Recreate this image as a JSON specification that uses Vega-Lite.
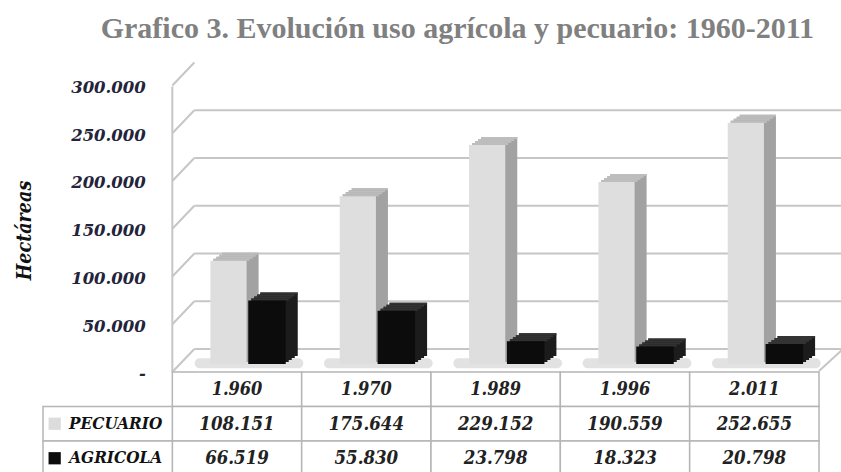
{
  "$schema": "https://vega.github.io/schema/vega-lite/v6.json",
  "background": "white",
  "padding": {"left": 14, "top": 14, "right": 0, "bottom": 0},
  "config": {
    "view": {"stroke": null},
    "locale": {"number": {"decimal": ",", "thousands": ".", "grouping": [3], "currency": ["", ""]}}
  },
  "title": {
    "text": "Grafico 3. Evolución uso agrícola y  pecuario: 1960-2011",
    "font": "Liberation Serif",
    "fontSize": 30,
    "fontWeight": "bold",
    "color": "#808080",
    "anchor": "middle",
    "dx": 28,
    "offset": 17
  },
  "datasets": {
    "d": [
      {"year": "1.960", "series": "PECUARIO", "value": 108151},
      {"year": "1.970", "series": "PECUARIO", "value": 175644},
      {"year": "1.989", "series": "PECUARIO", "value": 229152},
      {"year": "1.996", "series": "PECUARIO", "value": 190559},
      {"year": "2.011", "series": "PECUARIO", "value": 252655},
      {"year": "1.960", "series": "AGRICOLA", "value": 66519},
      {"year": "1.970", "series": "AGRICOLA", "value": 55830},
      {"year": "1.989", "series": "AGRICOLA", "value": 23798},
      {"year": "1.996", "series": "AGRICOLA", "value": 18323},
      {"year": "2.011", "series": "AGRICOLA", "value": 20798}
    ],
    "ticks": [
      {"v": 0}, {"v": 50000}, {"v": 100000}, {"v": 150000}, {"v": 200000}, {"v": 250000}, {"v": 300000}
    ]
  },
  "spacing": 0,
  "bounds": "flush",
  "resolve": {"scale": {"x": "independent", "y": "independent", "color": "independent"}},
  "vconcat": [
    {
      "width": 776,
      "height": 306,
      "layer": [
        {
          "data": {"name": "ticks"},
          "transform": [{"filter": "datum.v <= 250000"}],
          "mark": {"type": "rule", "color": "#c6c6c6", "strokeWidth": 2, "xOffset": 22, "x2Offset": 24, "yOffset": -15},
          "encoding": {
            "x": {"datum": "1.960", "bandPosition": 0, "type": "nominal", "axis": null,
                  "scale": {"domain": ["", "1.960", "1.970", "1.989", "1.996", "2.011"], "paddingInner": 0, "paddingOuter": 0}},
            "x2": {"datum": "2.011", "bandPosition": 1},
            "y": {"field": "v", "type": "quantitative", "title": "Hectáreas",
                  "scale": {"domain": [-8400, 312000], "nice": false, "zero": false},
                  "axis": {
                    "values": [0, 50000, 100000, 150000, 200000, 250000, 300000],
                    "labelExpr": "datum.value == 0 ? '-' : format(datum.value, ',d')",
                    "offset": -129.3,
                    "domain": false, "ticks": false, "grid": false,
                    "labelFont": "DejaVu Serif", "labelFontStyle": "italic", "labelFontWeight": "bold",
                    "labelFontSize": 16.5, "labelColor": "#23233a", "labelPadding": 27, "labelOffset": 10,
                    "titleFont": "DejaVu Serif Condensed", "titleFontStyle": "italic", "titleFontWeight": "bold",
                    "titleFontSize": 19.5, "titleColor": "#111111", "titlePadding": 36, "titleY": 164
                  }}
          }
        },
        {
          "data": {"name": "ticks"},
          "mark": {"type": "rule", "color": "#c6c6c6", "strokeWidth": 2, "x2Offset": 22, "yOffset": 8, "y2Offset": -15},
          "encoding": {
            "x": {"datum": "1.960", "bandPosition": 0, "type": "nominal", "axis": null},
            "x2": {"datum": "1.960", "bandPosition": 0},
            "y": {"field": "v", "type": "quantitative", "title": "Hectáreas"},
            "y2": {"field": "v"}
          }
        },
        {
          "data": {"values": [{}]},
          "mark": {"type": "rule", "color": "#c6c6c6", "strokeWidth": 2, "yOffset": 9},
          "encoding": {
            "x": {"datum": "1.960", "bandPosition": 0, "type": "nominal", "axis": null},
            "y": {"datum": 300000, "type": "quantitative", "title": "Hectáreas"},
            "y2": {"datum": -8400}
          }
        },
        {
          "data": {"values": [{}]},
          "mark": {"type": "rule", "color": "#c6c6c6", "strokeWidth": 2, "x2Offset": 24, "yOffset": 7, "y2Offset": -15},
          "encoding": {
            "x": {"datum": "2.011", "bandPosition": 1, "type": "nominal", "axis": null},
            "x2": {"datum": "2.011", "bandPosition": 1},
            "y": {"datum": 0, "type": "quantitative", "title": "Hectáreas"},
            "y2": {"datum": 0}
          }
        },
        {
          "data": {"name": "d"},
          "transform": [{"filter": "datum.series == 'PECUARIO'"}],
          "mark": {"type": "bar", "color": "#d6d6d6", "opacity": 0.7, "width": {"band": 0.84}, "xOffset": 12, "cornerRadius": 5},
          "encoding": {
            "x": {"field": "year", "type": "nominal", "axis": null},
            "y": {"datum": 6000, "type": "quantitative", "title": "Hectáreas"},
            "y2": {"datum": -4500}
          }
        },
        {
          "data": {"name": "d"},
          "transform": [{"filter": "datum.series == 'PECUARIO'"}],
          "mark": {"type": "bar", "color": "#a2a2a2", "width": {"band": 0.28}, "xOffset": 3.5, "yOffset": -8, "y2Offset": -8},
          "encoding": {
            "x": {"field": "year", "type": "nominal", "axis": null},
            "y": {"field": "value", "type": "quantitative", "title": "Hectáreas"},
            "y2": {"datum": 0}
          }
        },
        {
          "data": {"name": "d"},
          "transform": [{"filter": "datum.series == 'PECUARIO'"}],
          "mark": {"type": "bar", "color": "#a2a2a2", "width": {"band": 0.28}, "xOffset": 0.5, "yOffset": -6, "y2Offset": -6},
          "encoding": {
            "x": {"field": "year", "type": "nominal", "axis": null},
            "y": {"field": "value", "type": "quantitative", "title": "Hectáreas"},
            "y2": {"datum": 0}
          }
        },
        {
          "data": {"name": "d"},
          "transform": [{"filter": "datum.series == 'PECUARIO'"}],
          "mark": {"type": "bar", "color": "#a2a2a2", "width": {"band": 0.28}, "xOffset": -2.5, "yOffset": -4, "y2Offset": -4},
          "encoding": {
            "x": {"field": "year", "type": "nominal", "axis": null},
            "y": {"field": "value", "type": "quantitative", "title": "Hectáreas"},
            "y2": {"datum": 0}
          }
        },
        {
          "data": {"name": "d"},
          "transform": [{"filter": "datum.series == 'PECUARIO'"}],
          "mark": {"type": "bar", "color": "#a2a2a2", "width": {"band": 0.28}, "xOffset": -5.5, "yOffset": -2, "y2Offset": -2},
          "encoding": {
            "x": {"field": "year", "type": "nominal", "axis": null},
            "y": {"field": "value", "type": "quantitative", "title": "Hectáreas"},
            "y2": {"datum": 0}
          }
        },
        {
          "data": {"name": "d"},
          "transform": [{"filter": "datum.series == 'PECUARIO'"}],
          "mark": {"type": "bar", "color": "#bdbdbd", "width": {"band": 0.28}, "xOffset": 3.5, "yOffset": -8, "y2Offset": -6},
          "encoding": {
            "x": {"field": "year", "type": "nominal", "axis": null},
            "y": {"field": "value", "type": "quantitative", "title": "Hectáreas"},
            "y2": {"field": "value"}
          }
        },
        {
          "data": {"name": "d"},
          "transform": [{"filter": "datum.series == 'PECUARIO'"}],
          "mark": {"type": "bar", "color": "#bdbdbd", "width": {"band": 0.28}, "xOffset": 0.5, "yOffset": -6, "y2Offset": -4},
          "encoding": {
            "x": {"field": "year", "type": "nominal", "axis": null},
            "y": {"field": "value", "type": "quantitative", "title": "Hectáreas"},
            "y2": {"field": "value"}
          }
        },
        {
          "data": {"name": "d"},
          "transform": [{"filter": "datum.series == 'PECUARIO'"}],
          "mark": {"type": "bar", "color": "#bdbdbd", "width": {"band": 0.28}, "xOffset": -2.5, "yOffset": -4, "y2Offset": -2},
          "encoding": {
            "x": {"field": "year", "type": "nominal", "axis": null},
            "y": {"field": "value", "type": "quantitative", "title": "Hectáreas"},
            "y2": {"field": "value"}
          }
        },
        {
          "data": {"name": "d"},
          "transform": [{"filter": "datum.series == 'PECUARIO'"}],
          "mark": {"type": "bar", "color": "#bdbdbd", "width": {"band": 0.28}, "xOffset": -5.5, "yOffset": -2, "y2Offset": 0},
          "encoding": {
            "x": {"field": "year", "type": "nominal", "axis": null},
            "y": {"field": "value", "type": "quantitative", "title": "Hectáreas"},
            "y2": {"field": "value"}
          }
        },
        {
          "data": {"name": "d"},
          "transform": [{"filter": "datum.series == 'PECUARIO'"}],
          "mark": {"type": "bar", "color": "#dedede", "width": {"band": 0.28}, "xOffset": -8.5},
          "encoding": {
            "x": {"field": "year", "type": "nominal", "axis": null},
            "y": {"field": "value", "type": "quantitative", "title": "Hectáreas"},
            "y2": {"datum": 0}
          }
        },
        {
          "data": {"name": "d"},
          "transform": [{"filter": "datum.series == 'AGRICOLA'"}],
          "mark": {"type": "bar", "color": "#1c1c1c", "width": {"band": 0.29}, "xOffset": 42, "yOffset": -8, "y2Offset": -8},
          "encoding": {
            "x": {"field": "year", "type": "nominal", "axis": null},
            "y": {"field": "value", "type": "quantitative", "title": "Hectáreas"},
            "y2": {"datum": 0}
          }
        },
        {
          "data": {"name": "d"},
          "transform": [{"filter": "datum.series == 'AGRICOLA'"}],
          "mark": {"type": "bar", "color": "#1c1c1c", "width": {"band": 0.29}, "xOffset": 39, "yOffset": -6, "y2Offset": -6},
          "encoding": {
            "x": {"field": "year", "type": "nominal", "axis": null},
            "y": {"field": "value", "type": "quantitative", "title": "Hectáreas"},
            "y2": {"datum": 0}
          }
        },
        {
          "data": {"name": "d"},
          "transform": [{"filter": "datum.series == 'AGRICOLA'"}],
          "mark": {"type": "bar", "color": "#1c1c1c", "width": {"band": 0.29}, "xOffset": 36, "yOffset": -4, "y2Offset": -4},
          "encoding": {
            "x": {"field": "year", "type": "nominal", "axis": null},
            "y": {"field": "value", "type": "quantitative", "title": "Hectáreas"},
            "y2": {"datum": 0}
          }
        },
        {
          "data": {"name": "d"},
          "transform": [{"filter": "datum.series == 'AGRICOLA'"}],
          "mark": {"type": "bar", "color": "#1c1c1c", "width": {"band": 0.29}, "xOffset": 33, "yOffset": -2, "y2Offset": -2},
          "encoding": {
            "x": {"field": "year", "type": "nominal", "axis": null},
            "y": {"field": "value", "type": "quantitative", "title": "Hectáreas"},
            "y2": {"datum": 0}
          }
        },
        {
          "data": {"name": "d"},
          "transform": [{"filter": "datum.series == 'AGRICOLA'"}],
          "mark": {"type": "bar", "color": "#333333", "width": {"band": 0.29}, "xOffset": 42, "yOffset": -8, "y2Offset": -6},
          "encoding": {
            "x": {"field": "year", "type": "nominal", "axis": null},
            "y": {"field": "value", "type": "quantitative", "title": "Hectáreas"},
            "y2": {"field": "value"}
          }
        },
        {
          "data": {"name": "d"},
          "transform": [{"filter": "datum.series == 'AGRICOLA'"}],
          "mark": {"type": "bar", "color": "#333333", "width": {"band": 0.29}, "xOffset": 39, "yOffset": -6, "y2Offset": -4},
          "encoding": {
            "x": {"field": "year", "type": "nominal", "axis": null},
            "y": {"field": "value", "type": "quantitative", "title": "Hectáreas"},
            "y2": {"field": "value"}
          }
        },
        {
          "data": {"name": "d"},
          "transform": [{"filter": "datum.series == 'AGRICOLA'"}],
          "mark": {"type": "bar", "color": "#333333", "width": {"band": 0.29}, "xOffset": 36, "yOffset": -4, "y2Offset": -2},
          "encoding": {
            "x": {"field": "year", "type": "nominal", "axis": null},
            "y": {"field": "value", "type": "quantitative", "title": "Hectáreas"},
            "y2": {"field": "value"}
          }
        },
        {
          "data": {"name": "d"},
          "transform": [{"filter": "datum.series == 'AGRICOLA'"}],
          "mark": {"type": "bar", "color": "#333333", "width": {"band": 0.29}, "xOffset": 33, "yOffset": -2, "y2Offset": 0},
          "encoding": {
            "x": {"field": "year", "type": "nominal", "axis": null},
            "y": {"field": "value", "type": "quantitative", "title": "Hectáreas"},
            "y2": {"field": "value"}
          }
        },
        {
          "data": {"name": "d"},
          "transform": [{"filter": "datum.series == 'AGRICOLA'"}],
          "mark": {"type": "bar", "color": "#0c0c0c", "width": {"band": 0.29}, "xOffset": 30},
          "encoding": {
            "x": {"field": "year", "type": "nominal", "axis": null},
            "y": {"field": "value", "type": "quantitative", "title": "Hectáreas"},
            "y2": {"datum": 0}
          }
        }
      ]
    },
    {
      "width": 776,
      "height": 103.5,
      "data": {"name": "d"},
      "layer": [
        {
          "transform": [{"filter": "datum.series == 'PECUARIO'"}],
          "mark": {"type": "rect", "fill": "white", "stroke": "#b5b5b5", "strokeWidth": 1.5},
          "encoding": {
            "x": {"field": "year", "type": "nominal", "axis": null,
                  "scale": {"domain": ["", "1.960", "1.970", "1.989", "1.996", "2.011"], "paddingInner": 0, "paddingOuter": 0}},
            "y": {"datum": "h", "type": "nominal", "axis": null,
                  "scale": {"domain": ["h", "PECUARIO", "AGRICOLA"], "paddingInner": 0, "paddingOuter": 0}}
          }
        },
        {
          "mark": {"type": "rect", "fill": "white", "stroke": "#b5b5b5", "strokeWidth": 1.5},
          "encoding": {
            "x": {"field": "year", "type": "nominal", "axis": null},
            "y": {"field": "series", "type": "nominal", "axis": null}
          }
        },
        {
          "transform": [{"filter": "datum.year == '1.960'"}],
          "mark": {"type": "rect", "fill": "white", "stroke": "#b5b5b5", "strokeWidth": 1.5},
          "encoding": {
            "x": {"datum": "", "type": "nominal", "axis": null},
            "y": {"field": "series", "type": "nominal", "axis": null}
          }
        },
        {
          "transform": [{"filter": "datum.series == 'PECUARIO'"}],
          "mark": {"type": "text", "font": "DejaVu Serif Condensed", "fontStyle": "italic", "fontWeight": "bold", "fontSize": 18, "color": "#222222", "baseline": "middle", "yOffset": 1},
          "encoding": {
            "x": {"field": "year", "type": "nominal", "axis": null},
            "y": {"datum": "h", "type": "nominal", "axis": null},
            "text": {"field": "year"}
          }
        },
        {
          "mark": {"type": "text", "font": "DejaVu Serif Condensed", "fontStyle": "italic", "fontWeight": "bold", "fontSize": 18.5, "color": "#222222", "baseline": "middle", "yOffset": 0},
          "encoding": {
            "x": {"field": "year", "type": "nominal", "axis": null},
            "y": {"field": "series", "type": "nominal", "axis": null},
            "text": {"field": "value", "type": "quantitative", "format": ",d"}
          }
        },
        {
          "transform": [{"filter": "datum.year == '1.960'"}],
          "mark": {"type": "text", "font": "DejaVu Serif Condensed", "fontStyle": "italic", "fontWeight": "bold", "fontSize": 17, "color": "#111111", "baseline": "middle", "xOffset": 8, "yOffset": 0},
          "encoding": {
            "x": {"datum": "", "type": "nominal", "axis": null},
            "y": {"field": "series", "type": "nominal", "axis": null},
            "text": {"field": "series"}
          }
        },
        {
          "transform": [{"filter": "datum.year == '1.960'"}],
          "mark": {"type": "square", "size": 150, "filled": true, "opacity": 1, "xOffset": -53},
          "encoding": {
            "x": {"datum": "", "type": "nominal", "axis": null},
            "y": {"field": "series", "type": "nominal", "axis": null},
            "color": {"field": "series", "type": "nominal", "legend": null,
                      "scale": {"domain": ["PECUARIO", "AGRICOLA"], "range": ["#dcdcdc", "#0c0c0c"]}}
          }
        }
      ]
    }
  ]
}
